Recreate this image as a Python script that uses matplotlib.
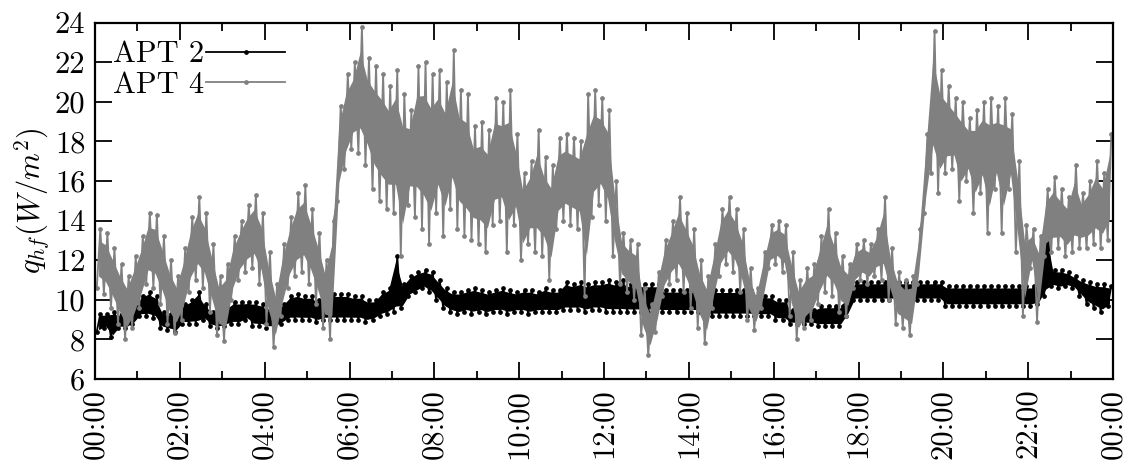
import matplotlib
matplotlib.use("Agg")
import matplotlib.pyplot as plt
import numpy as np

plt.rcParams['font.family'] = 'cmr10'
plt.rcParams['mathtext.fontset'] = 'cm'
plt.rcParams['axes.unicode_minus'] = False

# 10-minute windows: lowest / highest value in each window
apt4_lo = [10.6, 10.3, 9.6, 8.8, 8.0, 8.6,
           9.6, 10.8, 10.6, 9.8, 8.8, 8.3,
           9.0, 10.4, 11.0, 10.6, 9.4, 8.2,
           7.9, 10.0, 11.0, 11.4, 11.6, 10.8,
           8.8, 7.6, 9.2, 10.6, 11.2, 11.4,
           10.8, 9.8, 8.6, 8.0, 15.0, 16.6,
           17.6, 17.4, 16.8, 15.6, 15.0, 14.6,
           14.4, 12.2, 14.8, 14.2, 13.6, 12.8,
           14.4, 13.2, 14.6, 13.6, 13.2, 13.0,
           12.8, 12.4, 13.8, 14.0, 12.4, 13.8,
           12.0, 12.8, 12.4, 12.2, 11.0, 13.6,
           14.0, 13.8, 13.6, 10.2, 14.2, 14.8,
           14.0, 12.2, 10.8, 10.4, 10.0, 8.2,
           7.2, 8.4, 10.2, 10.8, 11.0, 10.4,
           9.6, 8.6, 7.8, 9.6, 11.2, 11.8,
           11.4, 10.4, 9.0, 8.5, 9.6, 11.6,
           11.8, 11.4, 9.2, 8.0, 8.6, 9.0,
           9.8, 10.4, 10.2, 9.4, 9.2, 10.6,
           11.0, 10.8, 11.2, 11.0, 10.0, 8.8,
           8.6, 8.2, 10.8, 14.4, 16.4, 15.4,
           16.4, 16.6, 15.0, 16.0, 14.4, 15.4,
           13.4, 15.6, 13.4, 15.6, 12.4, 9.2,
           11.6, 8.9, 12.2, 12.4, 12.6, 12.2,
           12.4, 12.6, 12.6, 12.8, 12.6, 13.0]
apt4_hi = [13.6, 13.4, 12.6, 11.8, 11.2, 12.2,
           13.2, 14.4, 14.3, 13.2, 12.0, 11.2,
           12.6, 14.2, 15.2, 14.4, 12.8, 11.2,
           11.8, 13.2, 14.0, 14.8, 15.3, 14.4,
           12.4, 10.8, 12.8, 14.2, 15.4, 15.8,
           14.6, 13.4, 12.0, 14.0, 19.8, 21.4,
           22.0, 23.8, 22.2, 21.8, 21.4, 20.8,
           21.6, 20.4, 19.6, 21.8, 22.0, 21.4,
           21.6, 21.0, 22.6, 20.6, 20.4, 18.8,
           19.0, 18.6, 20.2, 20.0, 20.6, 18.4,
           16.4, 17.0, 18.6, 17.2, 16.8, 18.2,
           18.4, 18.2, 18.0, 20.4, 20.6, 20.2,
           19.6, 16.0, 13.4, 13.0, 12.8, 10.6,
           9.8, 11.4, 13.0, 14.0, 15.2, 14.4,
           13.6, 12.0, 11.2, 12.8, 14.6, 15.2,
           14.6, 13.6, 11.6, 10.6, 12.4, 13.8,
           14.0, 13.8, 12.4, 11.0, 11.6, 11.8,
           13.2, 14.6, 13.4, 12.2, 11.8, 12.8,
           13.0, 12.8, 13.6, 15.2, 12.6, 11.4,
           11.0, 11.2, 13.6, 18.4, 23.6, 21.6,
           20.8, 20.2, 20.0, 19.2, 19.6, 20.0,
           20.2, 19.8, 20.2, 19.4, 17.0, 13.8,
           13.6, 13.2, 15.6, 16.2, 15.6, 15.2,
           16.8, 15.4, 16.0, 17.0, 16.4, 18.4]

apt2_lo = [8.4, 8.6, 8.1, 8.6, 8.6, 8.8,
           9.2, 9.2, 9.1, 8.6, 8.5, 8.4,
           8.8, 8.8, 8.8, 9.0, 8.7, 8.6,
           8.7, 8.8, 8.8, 9.0, 8.7, 8.7,
           8.6, 8.6, 8.8, 9.0, 9.0, 9.0,
           9.0, 8.9, 9.0, 9.0, 9.0, 9.0,
           9.0, 9.0, 8.9, 9.0, 9.2, 9.3,
           9.4, 9.6, 10.2, 10.4, 10.6, 10.4,
           10.0, 9.6, 9.4, 9.3, 9.4, 9.3,
           9.4, 9.3, 9.4, 9.4, 9.3, 9.4,
           9.4, 9.3, 9.4, 9.4, 9.4, 9.4,
           9.5, 9.5, 9.5, 9.4, 9.5, 9.5,
           9.4, 9.4, 9.4, 9.4, 9.4, 9.4,
           9.4, 9.4, 9.4, 9.4, 9.4, 9.4,
           9.4, 9.4, 9.2, 9.2, 9.2, 9.2,
           9.2, 9.2, 9.2, 9.2, 9.2, 9.2,
           9.0, 9.0, 8.8, 8.8, 8.8, 8.8,
           8.7, 8.7, 8.7, 8.7, 9.2, 10.0,
           10.0, 10.0, 10.0, 10.0, 10.0, 10.0,
           10.0, 10.0, 10.0, 10.0, 10.0, 10.0,
           9.7, 9.7, 9.7, 9.7, 9.7, 9.7,
           9.7, 9.7, 9.7, 9.7, 9.7, 9.7,
           9.7, 9.8, 10.2, 10.7, 10.6, 10.7,
           10.6, 10.2, 9.8, 9.6, 9.4, 9.7]
apt2_hi = [9.3, 9.3, 9.4, 9.3, 9.2, 9.6,
           10.2, 10.4, 10.2, 9.4, 9.3, 9.3,
           9.8, 10.0, 10.4, 9.8, 9.4, 9.4,
           9.6, 9.9, 9.9, 9.9, 9.9, 9.8,
           9.5, 9.6, 9.8, 10.2, 10.3, 10.2,
           10.2, 10.0, 10.2, 10.3, 10.3, 10.3,
           10.2, 10.2, 10.0, 10.0, 10.4, 10.6,
           12.2, 10.8, 11.2, 11.4, 11.5, 11.4,
           11.0, 10.6, 10.4, 10.4, 10.5, 10.6,
           10.5, 10.4, 10.5, 10.6, 10.5, 10.4,
           10.5, 10.5, 10.4, 10.6, 10.5, 10.5,
           10.9, 10.8, 10.9, 10.8, 10.9, 10.9,
           11.0, 10.9, 11.0, 10.8, 10.8, 10.8,
           10.8, 10.8, 10.5, 10.5, 10.5, 10.5,
           10.5, 10.5, 10.5, 10.5, 10.5, 10.5,
           10.5, 10.5, 10.5, 10.2, 10.2, 10.2,
           10.0, 10.0, 9.5, 9.5, 9.5, 9.5,
           9.7, 9.7, 9.7, 9.7, 10.5, 10.9,
           10.9, 10.9, 10.9, 10.9, 10.9, 10.9,
           10.9, 10.9, 10.9, 10.9, 10.9, 10.9,
           10.7, 10.7, 10.7, 10.7, 10.7, 10.7,
           10.7, 10.7, 10.7, 10.7, 10.7, 10.7,
           10.7, 10.8, 13.7, 11.5, 11.5, 11.4,
           11.2, 11.0, 10.9, 10.8, 10.8, 10.7]

hour_ticks = list(range(0, 25, 2))
hour_labels = ['00:00', '02:00', '04:00', '06:00', '08:00', '10:00', '12:00',
               '14:00', '16:00', '18:00', '20:00', '22:00', '00:00']
y_ticks = list(range(6, 25, 2))


def zigzag(lo, hi):
    # one low and one high sample per 10-minute window
    n = len(lo)
    t = np.empty(2 * n)
    v = np.empty(2 * n)
    start = np.arange(n) / 6.0
    t[0::2] = start + 2.5 / 60
    t[1::2] = start + 7.5 / 60
    v[0::2] = lo
    v[1::2] = hi
    return t, v


def core(lo, hi, f=0.2):
    # dense middle part of each window, the spikes stick out of it
    lo = np.asarray(lo)
    hi = np.asarray(hi)
    return lo + f * (hi - lo), hi - f * (hi - lo)


fig = plt.figure(figsize=(11.3, 4.73), dpi=100)
ax = fig.add_axes([0.0841, 0.1987, 0.9009, 0.7533])

grey = '#808080'
tc = (np.arange(len(apt2_lo)) + 0.5) / 6.0
t2, v2 = zigzag(apt2_lo, apt2_hi)
t4, v4 = zigzag(apt4_lo, apt4_hi)

ax.fill_between(tc, *core(apt2_lo, apt2_hi, 0.1), color='black', lw=0, zorder=2)
ax.plot(t2, v2, color='black', lw=1.3, marker='o', ms=2.4, label='APT 2', zorder=2)
ax.fill_between(tc, *core(apt4_lo, apt4_hi), color=grey, lw=0, zorder=3)
ax.plot(t4, v4, color=grey, lw=1.3, marker='o', ms=2.4, label='APT 4', zorder=3)

ax.set_xlim(0, 24)
ax.set_ylim(6, 24)
ax.set_xticks(hour_ticks)
ax.set_xticklabels(hour_labels, rotation=90)
ax.set_xticks(range(1, 24, 2), minor=True)
ax.set_yticks(y_ticks)
ax.tick_params(axis='both', which='major', direction='in', length=12, width=1.3,
               labelsize=22, top=True, right=True, pad=7)
ax.tick_params(axis='x', which='minor', direction='in', length=6, width=1.3, top=True)
for s in ax.spines.values():
    s.set_linewidth(1.6)
    s.set_zorder(5)

ax.set_ylabel(r'$q_{hf}(W/m^2)$', fontsize=22, labelpad=2)

ax.legend(loc='upper left', frameon=False, markerfirst=False, fontsize=22,
          handlelength=2.6, handletextpad=0.05, labelspacing=0.1,
          borderaxespad=0.2, numpoints=1)

fig.savefig('out.png', dpi=100)
